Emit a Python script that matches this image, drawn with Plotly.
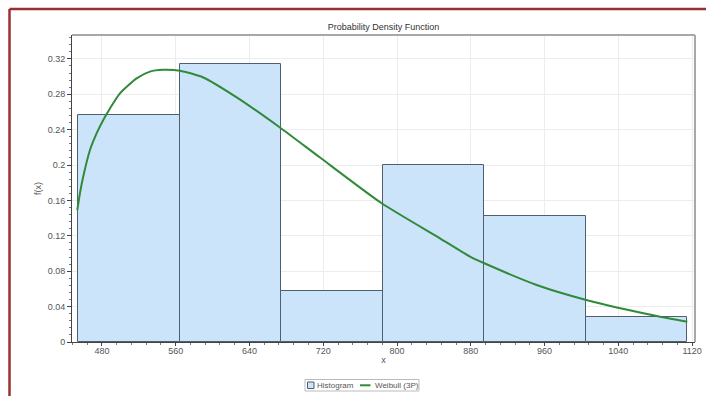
import plotly.graph_objects as go

# ---- data ----
bin_edges = [454.5, 564.5, 674.5, 784.5, 894.5, 1004.5, 1114.5]
rel_freq = [0.2571, 0.3143, 0.0571, 0.2000, 0.1429, 0.0286]

weibull_x = [453.2, 456.1, 459.7, 467.0, 474.3, 481.4, 488.7, 499.5, 517.6, 532.0, 546.5,
             564.6, 589.9, 626.1, 673.0, 716.5, 783.4, 846.6, 879.2, 894.7, 951.5,
             1005.3, 1081.7, 1114.9]
weibull_y = [0.149, 0.168, 0.187, 0.217, 0.236, 0.251, 0.264, 0.281, 0.298, 0.3056, 0.3076,
             0.3066, 0.299, 0.2765, 0.2425, 0.2085, 0.1568, 0.1172, 0.0965, 0.089, 0.0644,
             0.0475, 0.0294, 0.023]

x_ticks = [480, 560, 640, 720, 800, 880, 960, 1040, 1120]
y_ticks = [0, 0.04, 0.08, 0.12, 0.16, 0.2, 0.24, 0.28, 0.32]
y_tick_text = ["0", "0.04", "0.08", "0.12", "0.16", "0.2", "0.24", "0.28", "0.32"]
legend_labels = ["Histogram", "Weibull (3P)"]

centers = [(a + b) / 2 for a, b in zip(bin_edges[:-1], bin_edges[1:])]
widths = [b - a for a, b in zip(bin_edges[:-1], bin_edges[1:])]

bar_fill = "#cce4fa"
bar_line = "#4f5f70"
curve_c = "#2f8a3a"

fig = go.Figure()
fig.add_trace(go.Bar(
    x=centers, y=rel_freq, width=widths, name=legend_labels[0],
    marker=dict(color=bar_fill, line=dict(color=bar_line, width=1)),
))
fig.add_trace(go.Scatter(
    x=weibull_x, y=weibull_y, mode="lines", name=legend_labels[1],
    line=dict(color=curve_c, width=2, shape="spline", smoothing=0.6),
))

# plot area geometry in pixels (for paper-coordinate helpers)
W, H = 706, 396
L, R, T, B = 72, 11, 35, 54
pw, ph = W - L - R, H - T - B


def px(x):
    return (x - L) / pw


def py(y):
    return (H - B - y) / ph


font_c = "#555555"
shapes = [
    dict(type="line", xref="paper", yref="paper", x0=1, x1=1, y0=0, y1=1,
         line=dict(color="#a8a8a8", width=2)),
    dict(type="line", xref="paper", yref="paper", x0=0, x1=1, y0=1, y1=1,
         line=dict(color="#a8a8a8", width=2)),
    # outer dark-red frame
    dict(type="line", xref="paper", yref="paper", x0=px(9.5), x1=px(9.5), y0=py(400), y1=py(9),
         line=dict(color="#9b3030", width=2.5)),
    dict(type="line", xref="paper", yref="paper", x0=px(9.5), x1=px(710), y0=py(9), y1=py(9),
         line=dict(color="#9b3030", width=2.5)),
    # legend box
    dict(type="rect", xref="paper", yref="paper", x0=px(305), x1=px(419), y0=py(391), y1=py(379.5),
         line=dict(color="#bbbbbb", width=1), fillcolor="white"),
    # legend swatches
    dict(type="rect", xref="paper", yref="paper", x0=px(307.5), x1=px(314), y0=py(388.5), y1=py(382),
         line=dict(color=bar_line, width=1), fillcolor=bar_fill),
    dict(type="line", xref="paper", yref="paper", x0=px(360), x1=px(370.5), y0=py(385.3), y1=py(385.3),
         line=dict(color=curve_c, width=2)),
]
annotations = [
    dict(text=legend_labels[0], xref="paper", yref="paper", x=px(315), y=py(385.5),
         xanchor="left", yanchor="middle", showarrow=False, font=dict(size=8, color=font_c)),
    dict(text=legend_labels[1], xref="paper", yref="paper", x=px(372.5), y=py(385.5),
         xanchor="left", yanchor="middle", showarrow=False, font=dict(size=8, color=font_c)),
]

fig.update_layout(
    width=W, height=H,
    margin=dict(l=L, r=R, t=T, b=B, autoexpand=False),
    paper_bgcolor="white", plot_bgcolor="white",
    font=dict(family="Liberation Sans, Arial, sans-serif", size=9, color=font_c),
    title=dict(text="Probability Density Function", x=0.5, xref="paper",
               y=1 - 27 / H, yanchor="middle", font=dict(size=9, color="#333333")),
    bargap=0,
    showlegend=False,
    xaxis=dict(range=[447.5, 1123.2], tickvals=x_ticks, showgrid=True, automargin=False,
               gridcolor="#ececec", gridwidth=1, zeroline=False,
               showline=True, linecolor="#444444", linewidth=1,
               ticks="outside", ticklen=3, tickcolor="#444444", ticklabeloverflow="allow",
               ticklabelstandoff=-3,
               minor=dict(dtick=16, tick0=480, ticks="outside", ticklen=2, tickcolor="#777777", showgrid=False),
               title=dict(text="x", font=dict(size=9, color=font_c), standoff=1),
               tickfont=dict(size=9, color=font_c)),
    yaxis=dict(range=[0, 0.347], tickvals=y_ticks, ticktext=y_tick_text, showgrid=True, automargin=False,
               gridcolor="#ececec", gridwidth=1, zeroline=False,
               showline=True, linecolor="#444444", linewidth=1,
               ticks="outside", ticklen=4, tickcolor="#444444",
               minor=dict(dtick=0.008, tick0=0, ticks="outside", ticklen=2, tickcolor="#777777", showgrid=False),
               title=dict(text="f(x)", font=dict(size=9, color=font_c), standoff=4),
               tickfont=dict(size=9, color=font_c)),
    shapes=shapes,
    annotations=annotations,
)

fig.write_html("out.html", post_script="document.body.style.margin='0';",
               config={"displayModeBar": False})
